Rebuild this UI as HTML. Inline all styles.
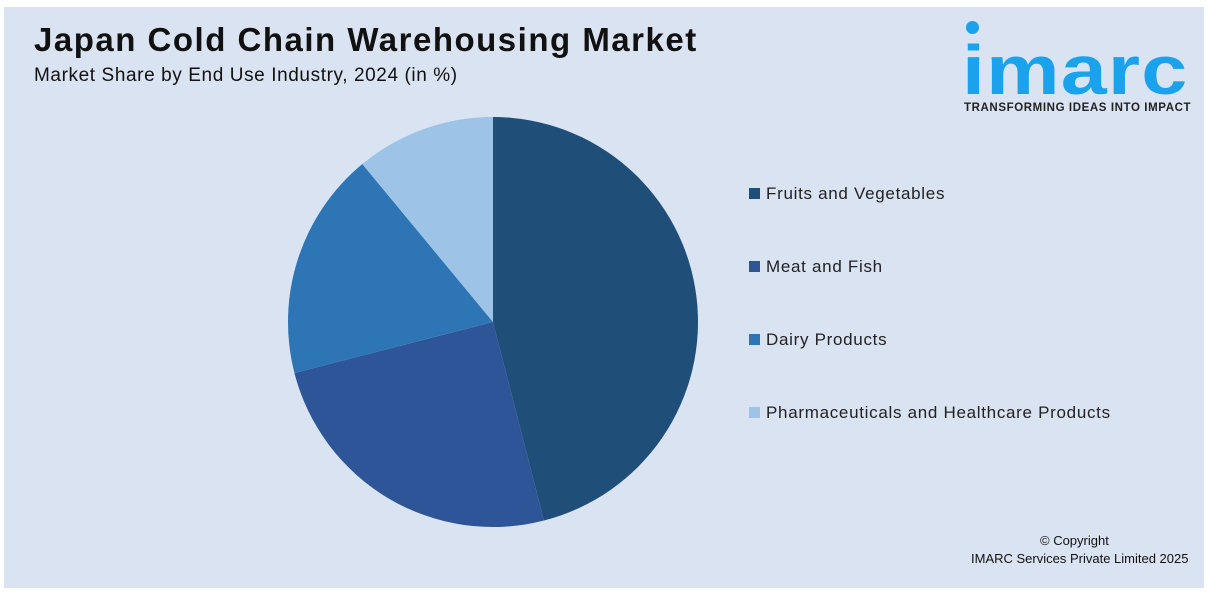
<!DOCTYPE html>
<html><head><meta charset="utf-8"><style>
body{margin:0;width:1210px;height:594px;background:#fff;font-family:"Liberation Sans",sans-serif;position:relative;overflow:hidden}
#panel{position:absolute;left:4px;top:7px;width:1200px;height:581px;background:#dae3f1}
.t{position:absolute;white-space:nowrap;color:#111}
.leg{position:absolute;left:749px;font-size:17px;color:#222;letter-spacing:0.7px;white-space:nowrap}
.leg span{display:inline-block;width:11px;height:11px;margin-right:6px;vertical-align:0px}
</style></head><body>
<div id="panel"></div>
<div class="t" style="left:34px;top:21px;font-size:33px;font-weight:bold;letter-spacing:1.5px">Japan Cold Chain Warehousing Market</div>
<div class="t" style="left:34px;top:65px;font-size:19px;letter-spacing:0.6px">Market Share by End Use Industry, 2024 (in %)</div>
<div style="position:absolute;left:962px;top:18px;width:232px;height:100px">
<div style="position:absolute;left:4px;top:3px;width:13px;height:13px;border-radius:50%;background:#1aa3ec"></div>
<div style="position:absolute;left:0;top:12px;font-size:70px;font-weight:bold;color:#1aa3ec;letter-spacing:1px;transform:scaleX(1.18);transform-origin:0 0">imarc</div>
<div style="position:absolute;left:2px;top:84px;font-size:11.5px;font-weight:bold;color:#222;letter-spacing:0.6px">TRANSFORMING IDEAS INTO IMPACT</div>
</div>
<svg id="pie" width="1210" height="594" style="position:absolute;left:0;top:0"></svg>
<div class="leg" style="top:184px"><span style="background:#1f4e79"></span>Fruits and Vegetables</div>
<div class="leg" style="top:257px"><span style="background:#2e5597"></span>Meat and Fish</div>
<div class="leg" style="top:330px"><span style="background:#2e75b6"></span>Dairy Products</div>
<div class="leg" style="top:403px"><span style="background:#9dc3e6"></span>Pharmaceuticals and Healthcare Products</div>
<div class="t" style="left:1040px;top:533px;font-size:13px">© Copyright</div>
<div class="t" style="left:971px;top:551px;font-size:13px">IMARC Services Private Limited 2025</div>
<script>
const categories=["Fruits and Vegetables","Meat and Fish","Dairy Products","Pharmaceuticals and Healthcare Products"];
const values=[46,25,18,11];
const colors=["#1f4e79","#2e5597","#2e75b6","#9dc3e6"];
const svg=document.getElementById('pie');
const cx=493,cy=322,r=205;
const total=values.reduce((a,b)=>a+b,0);
let a0=0;
values.forEach((v,i)=>{
  const a1=a0+v/total*2*Math.PI;
  const x0=cx+r*Math.sin(a0),y0=cy-r*Math.cos(a0),x1=cx+r*Math.sin(a1),y1=cy-r*Math.cos(a1);
  const p=document.createElementNS('http://www.w3.org/2000/svg','path');
  p.setAttribute('d',`M${cx},${cy}L${x0},${y0}A${r},${r} 0 ${a1-a0>Math.PI?1:0} 1 ${x1},${y1}Z`);
  p.setAttribute('fill',colors[i]);
  
  
  svg.appendChild(p);
  a0=a1;
});
</script>
</body></html>
